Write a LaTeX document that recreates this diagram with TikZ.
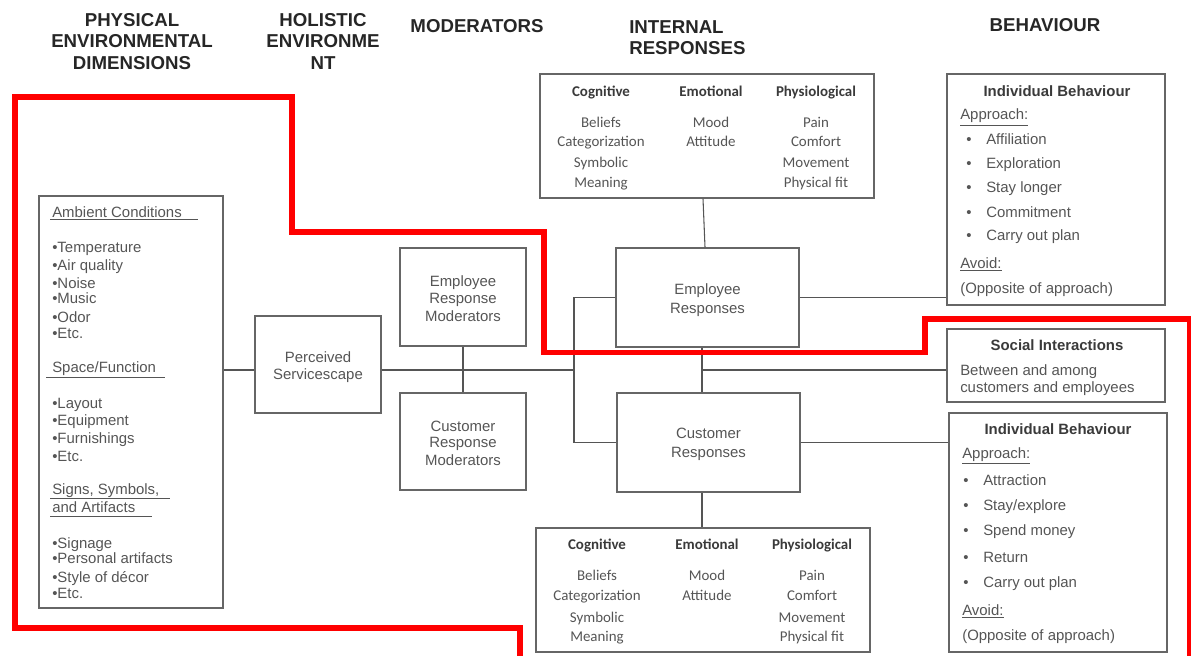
\documentclass[tikz,border=0pt]{standalone}
\usepackage{fontspec}
\setmainfont{Liberation Sans}
\newfontfamily\calfont{Carlito}
\usetikzlibrary{fit}
\definecolor{boxc}{HTML}{666666}
\definecolor{linec}{HTML}{555555}
\definecolor{txtc}{HTML}{555555}
\definecolor{hdrc}{HTML}{262626}
\definecolor{bhc}{HTML}{3A3A3A}
\definecolor{redc}{HTML}{FF0000}
\tikzset{
  box/.style={draw=boxc, line width=1.1pt, inner sep=0pt},
  conn/.style={draw=linec, line width=0.8pt},
  hdr/.style={font=\fontsize{14}{16}\selectfont\bfseries, text=hdrc, anchor=base, inner sep=0pt},
  hdrl/.style={hdr, anchor=base west},
  tx/.style={font=\fontsize{11.2}{13}\selectfont, text=txtc, anchor=base west, inner sep=0pt},
  txc/.style={tx, anchor=base},
  bh/.style={font=\fontsize{11.2}{13}\selectfont\bfseries, text=bhc, anchor=base, inner sep=0pt},
  ir/.style={font=\calfont\fontsize{11.2}{13}\selectfont, text=txtc, anchor=base, inner sep=0pt},
  irh/.style={font=\calfont\fontsize{11.2}{13}\selectfont\bfseries, text=bhc, anchor=base, inner sep=0pt},
  ul/.style={draw=txtc, line width=0.75pt},
  redline/.style={draw=redc, line width=4.2pt, line join=miter},
}
\newcommand{\bul}[1]{\makebox[15pt][l]{•}#1}
\begin{document}
\begin{tikzpicture}[x=0.75pt,y=-0.75pt]
\useasboundingbox (0,0) rectangle (1191,656);

% ---------- column headers ----------
\node[hdr] (h1a) at (132,26.5) {PHYSICAL};
\node[hdr] (h1b) at (132,48) {ENVIRONMENTAL};
\node[hdr] (h1c) at (132,69.5) {DIMENSIONS};
\node[hdr] (h2a) at (323,26.5) {HOLISTIC};
\node[hdr] (h2b) at (323,48) {ENVIRONME};
\node[hdr] (h2c) at (323,69.5) {NT};
\node[hdr] (h3) at (477,32.5) {MODERATORS};
\node[hdrl] (h4a) at (629,33.5) {INTERNAL};
\node[hdrl] (h4b) at (629,54.5) {RESPONSES};
\node[hdr] (h5) at (1045,31.5) {BEHAVIOUR};

% ---------- boxes ----------
\node[box, fit={(39,196)(223,608)}] (L) {};
\node[box, fit={(255,316)(381,413)}] (PS) {};
\node[box, fit={(400,248)(526,346)}] (ERM) {};
\node[box, fit={(400,393)(526,490)}] (CRM) {};
\node[box, fit={(616,248)(799,347)}] (ER) {};
\node[box, fit={(617,393)(800,492)}] (CR) {};
\node[box, fit={(540,74)(874,198)}] (IRT) {};
\node[box, fit={(536,528)(870,652)}] (IRB) {};
\node[box, fit={(947,74)(1165,305)}] (IB1) {};
\node[box, fit={(947,329)(1165,402)}] (SI) {};
\node[box, fit={(949,413)(1167,652)}] (IB2) {};

% ---------- left box text ----------
\node[tx] (a0) at (52,217) {Ambient Conditions};
\draw[ul] (50,219.5) -- (198,219.5);
\node[tx] (a1) at (52,252) {•Temperature};
\node[tx] (a2) at (52,270) {•Air quality};
\node[tx] (a3) at (52,288) {•Noise};
\node[tx] (a4) at (52,303) {•Music};
\node[tx] (a5) at (52,322) {•Odor};
\node[tx] (a6) at (52,338) {•Etc.};
\node[tx] (s0) at (52,372) {Space/Function};
\draw[ul] (46,377) -- (165,377);
\node[tx] (s1) at (52,408) {•Layout};
\node[tx] (s2) at (52,425) {•Equipment};
\node[tx] (s3) at (52,443) {•Furnishings};
\node[tx] (s4) at (52,461) {•Etc.};
\node[tx] (g0) at (52,494.5) {Signs, Symbols,};
\draw[ul] (50,498.5) -- (170,498.5);
\node[tx] (g0b) at (52,512) {and Artifacts};
\draw[ul] (50,516) -- (152,516);
\node[tx] (g1) at (52,548) {•Signage};
\node[tx] (g2) at (52,563) {•Personal artifacts};
\node[tx] (g3) at (52,582) {•Style of décor};
\node[tx] (g4) at (52,598) {•Etc.};

% ---------- middle boxes text ----------
\node[txc] (ps1) at (318,362) {Perceived};
\node[txc] (ps2) at (318,379) {Servicescape};
\node[txc] (em1) at (463,286) {Employee};
\node[txc] (em2) at (463,303) {Response};
\node[txc] (em3) at (463,321) {Moderators};
\node[txc] (cm1) at (463,431) {Customer};
\node[txc] (cm2) at (463,447) {Response};
\node[txc] (cm3) at (463,465) {Moderators};
\node[txc] (er1) at (707.5,294) {Employee};
\node[txc] (er2) at (707.5,313) {Responses};
\node[txc] (cr1) at (708.5,438) {Customer};
\node[txc] (cr2) at (708.5,457) {Responses};

% ---------- internal responses (top) ----------
\node[irh] (t1) at (601,96.5) {Cognitive};
\node[irh] (t2) at (711,96.5) {Emotional};
\node[irh] (t3) at (816,96.5) {Physiological};
\node[ir] (t11) at (601,127.5) {Beliefs};
\node[ir] (t12) at (601,146.5) {Categorization};
\node[ir] (t13) at (601,167.5) {Symbolic};
\node[ir] (t14) at (601,187.5) {Meaning};
\node[ir] (t21) at (711,127.5) {Mood};
\node[ir] (t22) at (711,146.5) {Attitude};
\node[ir] (t31) at (816,127.5) {Pain};
\node[ir] (t32) at (816,146.5) {Comfort};
\node[ir] (t33) at (816,167.5) {Movement};
\node[ir] (t34) at (816,187.5) {Physical fit};

% ---------- internal responses (bottom) ----------
\node[irh] (b1) at (597,549.5) {Cognitive};
\node[irh] (b2) at (707,549.5) {Emotional};
\node[irh] (b3) at (812,549.5) {Physiological};
\node[ir] (b11) at (597,580.5) {Beliefs};
\node[ir] (b12) at (597,600.5) {Categorization};
\node[ir] (b13) at (597,622) {Symbolic};
\node[ir] (b14) at (597,641.5) {Meaning};
\node[ir] (b21) at (707,580.5) {Mood};
\node[ir] (b22) at (707,600.5) {Attitude};
\node[ir] (b31) at (812,580.5) {Pain};
\node[ir] (b32) at (812,600.5) {Comfort};
\node[ir] (b33) at (812,622) {Movement};
\node[ir] (b34) at (812,641.5) {Physical fit};

% ---------- behaviour (top) ----------
\node[bh] (i0) at (1057,96.5) {Individual Behaviour};
\node[tx] (i1) at (960,120) {\underline{Approach:}};
\node[tx] (i2) at (966,145) {\bul{Affiliation}};
\node[tx] (i3) at (966,168) {\bul{Exploration}};
\node[tx] (i4) at (966,192) {\bul{Stay longer}};
\node[tx] (i5) at (966,217) {\bul{Commitment}};
\node[tx] (i6) at (966,240) {\bul{Carry out plan}};
\node[tx] (i7) at (960,268) {\underline{Avoid:}};
\node[tx] (i8) at (960,293) {(Opposite of approach)};

% ---------- social interactions ----------
\node[bh] (so0) at (1057,350) {Social Interactions};
\node[tx] (so1) at (960,375.5) {Between and among};
\node[tx] (so2) at (960,392.5) {customers and employees};

% ---------- behaviour (bottom) ----------
\node[bh] (j0) at (1058,434) {Individual Behaviour};
\node[tx] (j1) at (962,458) {\underline{Approach:}};
\node[tx] (j2) at (963,485.5) {\bul{Attraction}};
\node[tx] (j3) at (963,510.5) {\bul{Stay/explore}};
\node[tx] (j4) at (963,535.5) {\bul{Spend money}};
\node[tx] (j5) at (963,562.5) {\bul{Return}};
\node[tx] (j6) at (963,587.5) {\bul{Carry out plan}};
\node[tx] (j7) at (962,615) {\underline{Avoid:}};
\node[tx] (j8) at (962,640.5) {(Opposite of approach)};

% ---------- connectors ----------
\coordinate (hy) at (0,370);
\coordinate (bx) at (574,370);
\coordinate (vx) at (702,370);
\coordinate (ta) at (703,0);
\coordinate (tb) at (705,0);
\draw[conn] (L.east |- hy) -- (PS.west |- hy);
\draw[conn] (PS.east |- hy) -- (bx);
\draw[conn] (ER.west) -| (bx) |- (CR.west);
\draw[conn] (ERM.south) -- (CRM.north);
\draw[conn] (IRT.south -| ta) -- (ER.north -| tb);
\draw[conn] (ER.south -| vx) -- (CR.north -| vx);
\draw[conn] (vx) -- (SI.west |- vx);
\draw[conn] (CR.south -| vx) -- (IRB.north -| vx);
\draw[conn] (ER.east) -- (IB1.west |- ER.east);
\draw[conn] (CR.east) -- (IB2.west |- CR.east);

% ---------- red outline ----------
\draw[redline] (520,662) -- (520,628) -- (15,628) -- (15,97) -- (292,97)
  -- (292,232) -- (544,232) -- (544,352.5) -- (925,352.5) -- (925,319)
  -- (1190,319) -- (1190,662);
\end{tikzpicture}
\end{document}
